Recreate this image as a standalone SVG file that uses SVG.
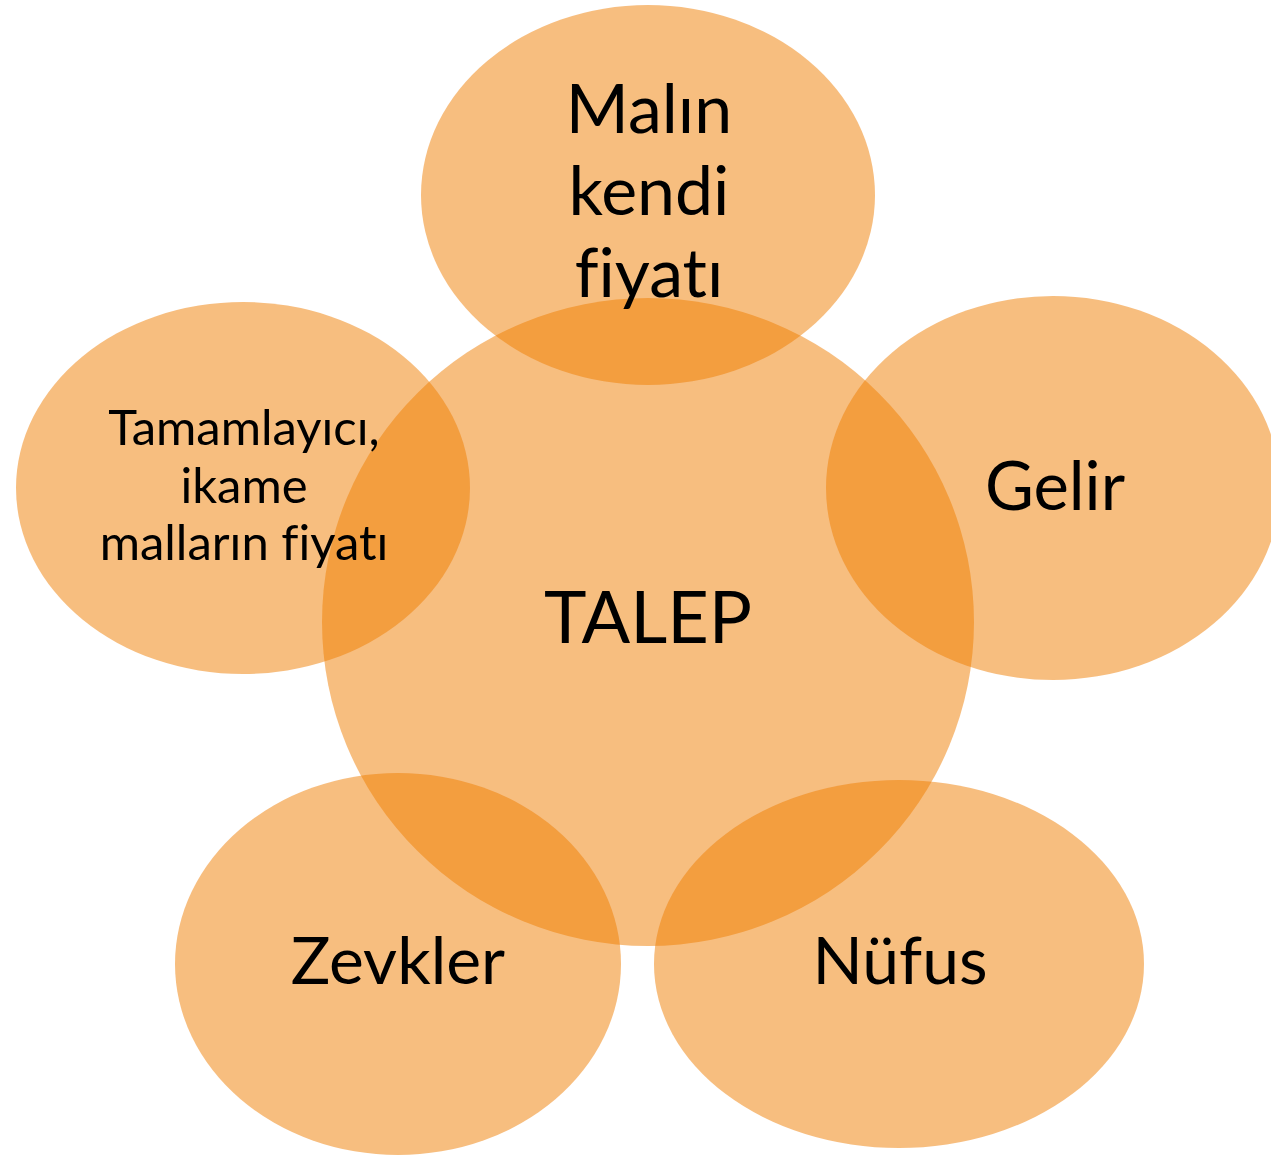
<svg xmlns="http://www.w3.org/2000/svg" width="1271" height="1156" viewBox="0 0 1271 1156">
  <style>
    .blob { fill: #F07D00; fill-opacity: 0.5; }
    .lbl { font-family: Lato, "Liberation Sans", sans-serif; fill: #000; text-anchor: middle; font-variant-ligatures: none; }
  </style>
  <rect width="1271" height="1156" fill="#FFFFFF"/>
  <g id="talep">
    <ellipse class="blob" cx="648" cy="622" rx="326" ry="324"/>
    <text class="lbl" x="648" y="643" font-size="72">TALEP</text>
  </g>
  <g id="malin-kendi-fiyati">
    <ellipse class="blob" cx="648" cy="195" rx="227" ry="190"/>
    <text class="lbl" font-size="68"><tspan x="649" y="133">Malın</tspan><tspan x="649" y="215">kendi</tspan><tspan x="649" y="297">fiyatı</tspan></text>
  </g>
  <g id="gelir">
    <ellipse class="blob" cx="1053" cy="488" rx="227" ry="192"/>
    <text class="lbl" x="1055" y="510" font-size="67">Gelir</text>
  </g>
  <g id="tamamlayici">
    <ellipse class="blob" cx="243" cy="488" rx="227" ry="186"/>
    <text class="lbl" font-size="49"><tspan x="244" y="445">Tamamlayıcı,</tspan><tspan x="244" y="503">ikame</tspan><tspan x="244" y="560">malların fiyatı</tspan></text>
  </g>
  <g id="zevkler">
    <ellipse class="blob" cx="398" cy="964" rx="223" ry="191"/>
    <text class="lbl" x="398" y="984" font-size="66">Zevkler</text>
  </g>
  <g id="nufus">
    <ellipse class="blob" cx="899" cy="964" rx="245" ry="184"/>
    <text class="lbl" x="900" y="984" font-size="66">Nüfus</text>
  </g>
  <g id="connectors"/>
</svg>
